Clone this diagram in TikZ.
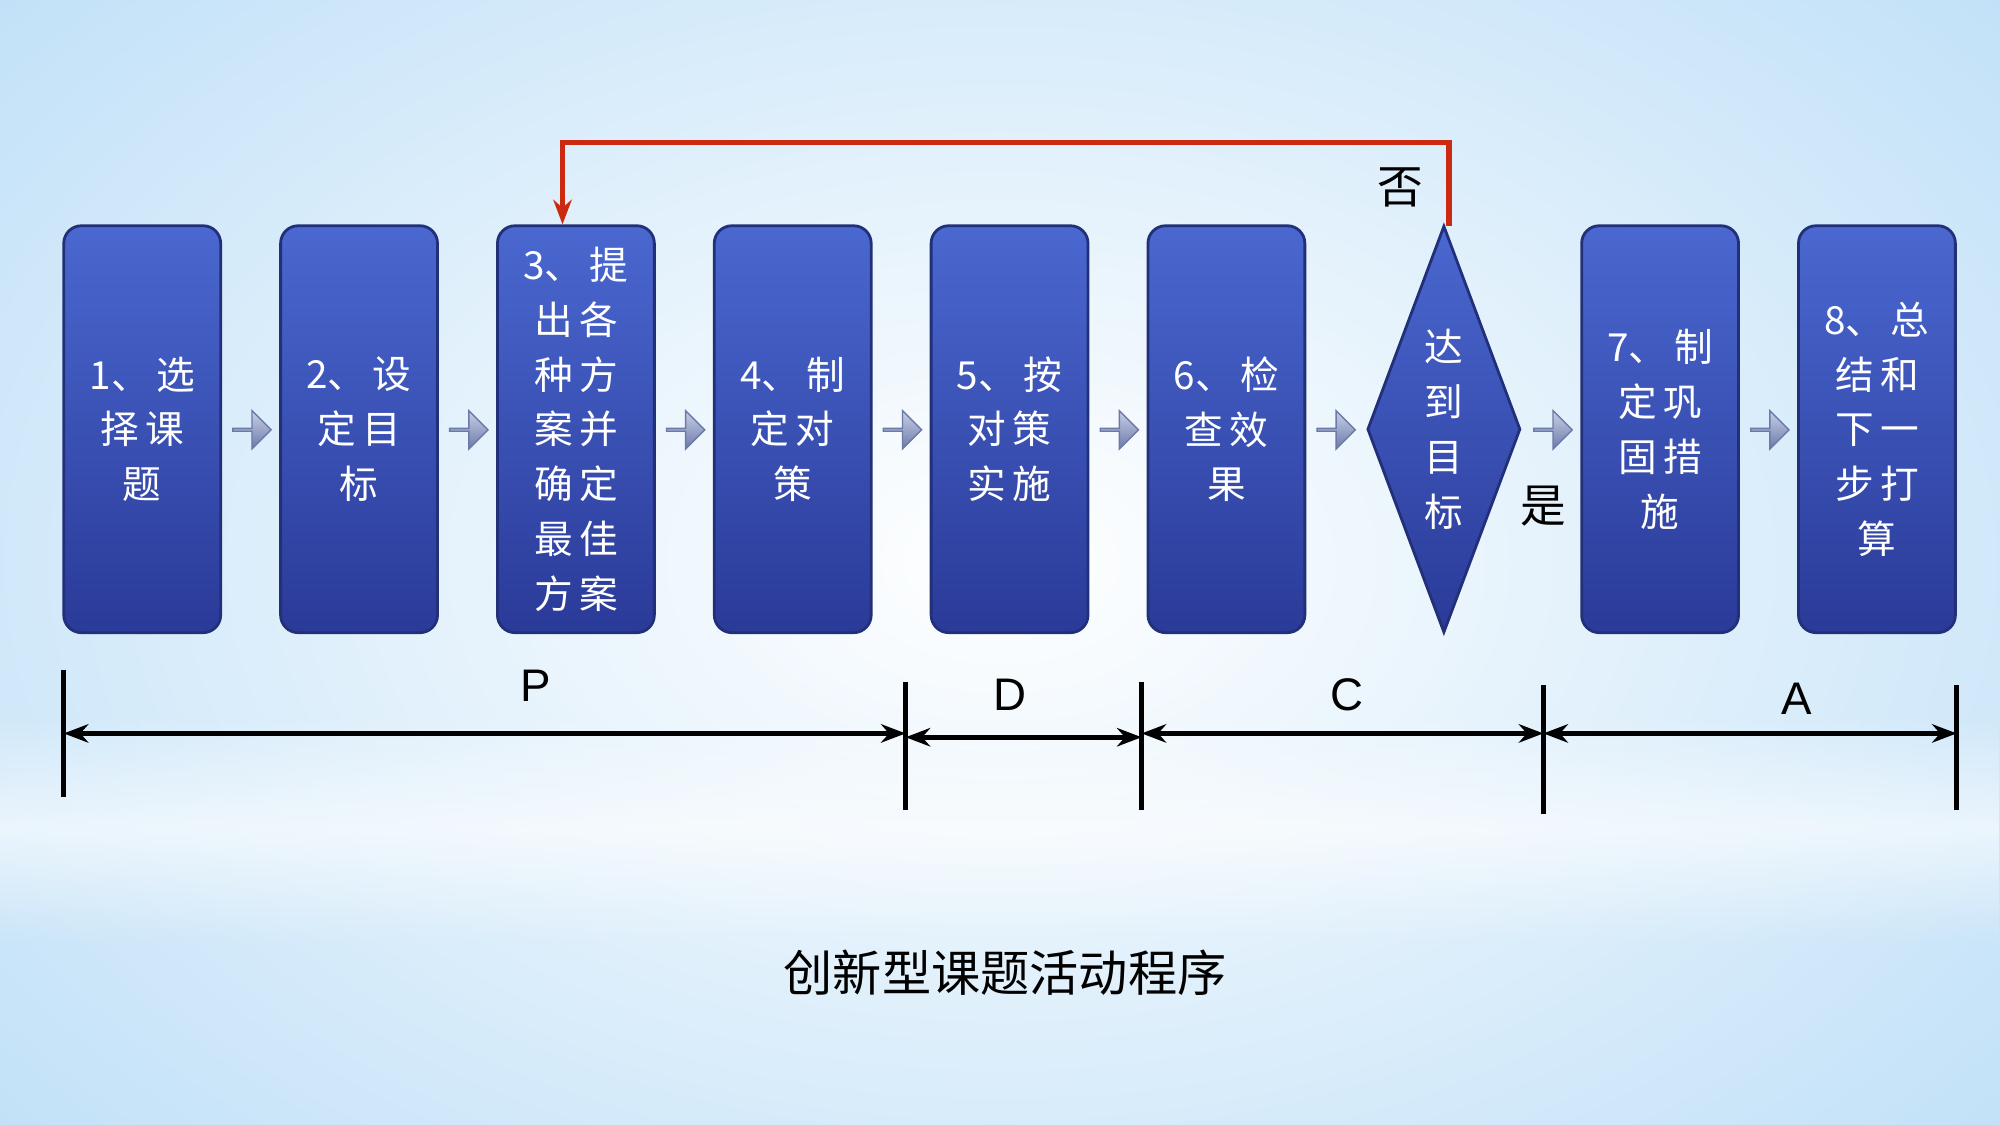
\documentclass[tikz,border=0pt]{standalone}
\usepackage{fontspec}
\setmainfont{Liberation Sans}
\newfontfamily\cjk{Noto Sans CJK SC}
\usetikzlibrary{shapes.geometric,shapes.arrows,arrows.meta,fadings}
\definecolor{bxtop}{HTML}{4A68D0}
\definecolor{bxbot}{HTML}{2A3A98}
\definecolor{bxedge}{HTML}{22307A}
\definecolor{bgblue}{HTML}{B3DAF6}
\definecolor{redl}{HTML}{CC2A10}
\definecolor{arrtop}{HTML}{C8D0E8}
\definecolor{arrbot}{HTML}{6C7AA8}
\tikzfading[name=bandfade,top color=transparent!100,bottom color=transparent!100,middle color=transparent!40]
\begin{document}
\begin{tikzpicture}[x=0.012755cm,y=-0.012755cm,
  stepbox/.style={draw=bxedge,line width=0.8pt,rounded corners=5pt,top color=bxtop,bottom color=bxbot,minimum width=123*0.012755cm,minimum height=319*0.012755cm,text=white,font=\cjk\fontsize{11}{15.6}\selectfont,align=center,inner sep=0pt},
  garrow/.style={single arrow,draw=arrbot,top color=arrtop,bottom color=arrbot,minimum height=30*0.012755cm,minimum width=30*0.012755cm,single arrow head extend=2.5pt,inner sep=0pt},
  tick/.style={line width=1.3pt},
  span/.style={line width=1.3pt,{Stealth[length=7pt]}-{Stealth[length=7pt]}},
  lbl/.style={font=\fontsize{13}{13}\selectfont}]
\useasboundingbox (0,0) rectangle (1568,882);
\shade[inner color=white,outer color=bgblue] (-500,-400) rectangle (2068,1282);
\fill[white,path fading=bandfade] (0,560) rectangle (1568,740);
% boxes
\node[stepbox] (b1) at (111.5,336.5) {1、\,选\\择\,课\\题};
\node[stepbox] (b2) at (281.5,336.5) {2、\,设\\定\,目\\标};
\node[stepbox] (b3) at (451.5,336.5) {3、\,提\\出\,各\\种\,方\\案\,并\\确\,定\\最\,佳\\方\,案};
\node[stepbox] (b4) at (621.5,336.5) {4、\,制\\定\,对\\策};
\node[stepbox] (b5) at (791.5,336.5) {5、\,按\\对\,策\\实\,施};
\node[stepbox] (b6) at (961.5,336.5) {6、\,检\\查\,效\\果};
\node[diamond,draw=bxedge,line width=0.8pt,top color=bxtop,bottom color=bxbot,minimum width=120*0.012755cm,minimum height=319*0.012755cm,aspect=0.376,inner sep=0pt,text=white,font=\cjk\fontsize{11}{15.6}\selectfont,align=center] (dm) at (1132,336.5) {达\\到\\目\\标};
\node[stepbox] (b7) at (1301.5,336.5) {7、\,制\\定\,巩\\固\,措\\施};
\node[stepbox] (b8) at (1471.5,336.5) {8、\,总\\结\,和\\下\,一\\步\,打\\算};
% small arrows
\foreach \x/\n in {197/a1,367/a2,537/a3,707/a4,877/a5,1047/a6,1217/a7,1387/a8}
  \node[garrow] (\n) at (\x,337) {};
% feedback loop
\coordinate (ltop) at (1136,112);
\coordinate (lleft) at (441,112);
\draw[redl,line width=1.5pt,-{Stealth[length=7pt]}] (1136,177) -- (ltop) -- (lleft) -- (b3.north -| lleft);
\node[font=\cjk\fontsize{13}{13}\selectfont] (no) at (1098,147) {否};
\node[font=\cjk\fontsize{13}{13}\selectfont] (yes) at (1210,397) {是};
% phase brackets
\coordinate (t1a) at (50,525); \coordinate (t1b) at (50,625);
\coordinate (t2a) at (710,535); \coordinate (t2b) at (710,635);
\coordinate (t3a) at (895,535); \coordinate (t3b) at (895,635);
\coordinate (t4a) at (1210,537); \coordinate (t4b) at (1210,638);
\coordinate (t5a) at (1534,537); \coordinate (t5b) at (1534,635);
\foreach \i in {1,...,5} \draw[tick] (t\i a) -- (t\i b);
\coordinate (h1) at (50,575); \coordinate (h2) at (710,575);
\coordinate (h2b) at (710,578); \coordinate (h3b) at (895,578);
\coordinate (h3) at (895,575); \coordinate (h4) at (1210,575); \coordinate (h5) at (1534,575);
\draw[span] (h1) -- (h2);
\draw[span] (h2b) -- (h3b);
\draw[span] (h3) -- (h4);
\draw[span] (h4) -- (h5);
\node[lbl] (P) at (420,538) {P};
\node[lbl] (D) at (792,545) {D};
\node[lbl] (C) at (1056,545) {C};
\node[lbl] (A) at (1409,548) {A};
\node[font=\cjk\fontsize{14}{14}\selectfont] (title) at (788,763) {创新型课题活动程序};
\end{tikzpicture}
\end{document}
